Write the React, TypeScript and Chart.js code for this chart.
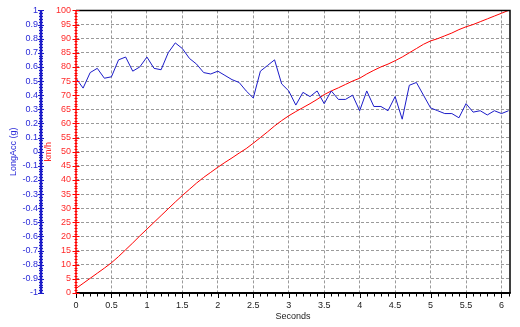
import React, { useEffect, useRef } from 'react';
import { Chart, registerables } from 'chart.js';

Chart.register(...registerables);

const seconds = [
  0, 0.1, 0.2, 0.3, 0.4, 0.5, 0.6, 0.7, 0.8, 0.9,
  1.0, 1.1, 1.2, 1.3, 1.4, 1.5, 1.6, 1.7, 1.8, 1.9,
  2.0, 2.1, 2.2, 2.3, 2.4, 2.5, 2.6, 2.7, 2.8, 2.9,
  3.0, 3.1, 3.2, 3.3, 3.4, 3.5, 3.6, 3.7, 3.8, 3.9,
  4.0, 4.1, 4.2, 4.3, 4.4, 4.5, 4.6, 4.7, 4.8, 4.9,
  5.0, 5.1, 5.2, 5.3, 5.4, 5.5, 5.6, 5.7, 5.8, 5.9,
  6.0, 6.1,
];

const longAccG = [
  0.52, 0.45, 0.56, 0.59, 0.52, 0.53, 0.65, 0.67, 0.57, 0.6,
  0.67, 0.59, 0.58, 0.7, 0.77, 0.73, 0.66, 0.62, 0.56, 0.55,
  0.57, 0.54, 0.51, 0.49, 0.43, 0.38, 0.57, 0.61, 0.65, 0.48,
  0.43, 0.33, 0.42, 0.39, 0.43, 0.34, 0.43, 0.37, 0.37, 0.4,
  0.29, 0.43, 0.32, 0.32, 0.29, 0.39, 0.23, 0.47, 0.49, 0.4,
  0.31, 0.29, 0.27, 0.27, 0.24, 0.34, 0.28, 0.29, 0.26, 0.29,
  0.27, 0.29,
];

const speedKmh = [
  1.6, 3.4, 5.2, 7.0, 8.8, 10.7, 12.9, 15.3, 17.7, 20.2,
  22.6, 25.0, 27.4, 29.8, 32.2, 34.5, 36.7, 38.9, 40.9, 42.7,
  44.5, 46.2, 47.8, 49.5, 51.1, 53.0, 55.0, 57.0, 59.1, 61.0,
  62.7, 64.2, 65.6, 67.0, 68.5, 70.2, 71.5, 72.6, 73.8, 75.0,
  76.0, 77.5, 78.8, 80.0, 81.0, 82.2, 83.5, 85.0, 86.5, 88.0,
  89.2, 90.0, 91.0, 92.0, 93.2, 94.2, 95.0, 96.0, 97.0, 98.0,
  99.0, 100.0,
];

const secondsRange = [0, 6.12];
const gRange = [-1, 1];
const kmhRange = [0, 100];

const FONT = "'Liberation Sans', Arial, sans-serif";
const BLUE = '#1c1cc8';
const BLUE_TEXT = '#2a2ad8';
const RED = '#ff0000';
const RED_TEXT = '#ff2a2a';
const GRID = '#9a9a9a';

const framePlugin = {
  id: 'frame',
  afterDatasetsDraw(chart: any) {
    const { ctx, chartArea: ca, scales } = chart;
    const xs = scales.x;
    const gs = scales.g;
    const ks = scales.kmh;
    ctx.save();
    ctx.setLineDash([]);

    // top and right borders
    ctx.strokeStyle = '#000';
    ctx.lineWidth = 1.5;
    ctx.beginPath();
    ctx.moveTo(ca.left, ca.top);
    ctx.lineTo(ca.right, ca.top);
    ctx.lineTo(ca.right, ca.bottom);
    ctx.stroke();

    // bottom axis
    ctx.lineWidth = 2;
    ctx.beginPath();
    ctx.moveTo(ca.left, ca.bottom);
    ctx.lineTo(ca.right + 0.75, ca.bottom);
    ctx.stroke();
    ctx.lineWidth = 1;
    ctx.beginPath();
    for (let i = 0; i <= 61; i++) {
      const px = Math.round(xs.getPixelForValue(i / 10)) + 0.5;
      const len = i % 5 === 0 ? 5 : 3.5;
      ctx.moveTo(px, ca.bottom);
      ctx.lineTo(px, ca.bottom + len);
    }
    ctx.stroke();

    // red axis
    ctx.strokeStyle = RED;
    ctx.lineWidth = 1.5;
    ctx.beginPath();
    ctx.moveTo(ca.left, ca.top);
    ctx.lineTo(ca.left, ca.bottom);
    ctx.stroke();
    ctx.lineWidth = 1;
    ctx.beginPath();
    for (let v = 0; v <= 100; v++) {
      const py = Math.round(ks.getPixelForValue(v)) + 0.5;
      const len = v % 5 === 0 ? 3.5 : 1.5;
      ctx.moveTo(ca.left - len, py);
      ctx.lineTo(ca.left + len, py);
    }
    ctx.stroke();

    // blue axis
    const bx = gs.right;
    ctx.strokeStyle = BLUE;
    ctx.lineWidth = 2.5;
    ctx.beginPath();
    ctx.moveTo(bx, ca.top);
    ctx.lineTo(bx, ca.bottom);
    ctx.stroke();
    ctx.lineWidth = 1;
    ctx.beginPath();
    for (let i = -50; i <= 50; i++) {
      const py = Math.round(gs.getPixelForValue(i / 50)) + 0.5;
      const len = i % 5 === 0 ? 3 : 2;
      ctx.moveTo(bx - len, py);
      ctx.lineTo(bx + len, py);
    }
    ctx.stroke();

    ctx.restore();
  },
};

export default function App() {
  const canvasRef = useRef<HTMLCanvasElement | null>(null);

  useEffect(() => {
    const canvas = canvasRef.current;
    if (!canvas) return;
    const tickLabel = (v: any) => String(Math.round(Number(v) * 10) / 10);

    const chart = new Chart(canvas, {
      type: 'line',
      data: {
        datasets: [
          {
            label: 'LongAcc (g)',
            data: seconds.map((t, i) => ({ x: t, y: longAccG[i] })),
            yAxisID: 'g',
            borderColor: BLUE,
            borderWidth: 1,
            pointRadius: 0,
            tension: 0,
          },
          {
            label: 'km/h',
            data: seconds.map((t, i) => ({ x: t, y: speedKmh[i] })),
            yAxisID: 'kmh',
            borderColor: RED,
            borderWidth: 1,
            pointRadius: 0,
            tension: 0,
          },
        ],
      },
      options: {
        responsive: false,
        animation: false,
        events: [],
        layout: { padding: { top: 10, right: 10, left: 0, bottom: 0 } },
        plugins: {
          legend: { display: false },
          tooltip: { enabled: false },
        },
        scales: {
          x: {
            type: 'linear',
            min: secondsRange[0],
            max: secondsRange[1],
            afterBuildTicks: (scale: any) => {
              scale.ticks = scale.ticks.filter(
                (t: any) => Math.abs(t.value * 2 - Math.round(t.value * 2)) < 1e-6 && t.value <= 6.0001
              );
            },
            afterFit: (scale: any) => {
              scale.height = 34;
            },
            ticks: {
              stepSize: 0.5,
              includeBounds: false,
              autoSkip: false,
              maxRotation: 0,
              padding: 7,
              color: '#222',
              font: { family: FONT, size: 9 },
              callback: tickLabel,
            },
            grid: {
              color: (c: any) => (c.tick && c.tick.value === 0 ? 'rgba(0,0,0,0)' : GRID),
              lineWidth: 1,
              drawTicks: false,
            },
            border: { display: false, dash: [3, 2] },
            title: {
              display: true,
              text: 'Seconds',
              color: '#222',
              font: { family: FONT, size: 9 },
              padding: { top: 0, bottom: 5 },
            },
          },
          g: {
            type: 'linear',
            position: 'left',
            weight: 2,
            min: gRange[0],
            max: gRange[1],
            afterFit: (scale: any) => {
              scale.width = 41;
            },
            ticks: {
              stepSize: 0.1,
              autoSkip: false,
              padding: 3,
              color: BLUE_TEXT,
              font: { family: FONT, size: 9 },
              callback: tickLabel,
            },
            grid: { display: false, drawTicks: false },
            border: { display: false },
            title: {
              display: true,
              text: 'LongAcc (g)',
              color: BLUE_TEXT,
              font: { family: FONT, size: 9 },
              padding: { top: 8, bottom: 0 },
            },
          },
          kmh: {
            type: 'linear',
            position: 'left',
            weight: 1,
            min: kmhRange[0],
            max: kmhRange[1],
            afterFit: (scale: any) => {
              scale.width = 35;
            },
            ticks: {
              stepSize: 5,
              autoSkip: false,
              padding: 5,
              color: RED_TEXT,
              font: { family: FONT, size: 9 },
            },
            grid: {
              color: (c: any) =>
                c.tick && (c.tick.value === 0 || c.tick.value === 100) ? 'rgba(0,0,0,0)' : GRID,
              lineWidth: 1,
              drawTicks: false,
            },
            border: { display: false, dash: [3, 2] },
            title: {
              display: true,
              text: 'km/h',
              color: RED_TEXT,
              font: { family: FONT, size: 9 },
              padding: { top: 2, bottom: 0 },
            },
          },
        },
      },
      plugins: [framePlugin],
    } as any);

    return () => {
      chart.destroy();
    };
  }, []);

  return (
    <div style={{ position: 'absolute', left: 0, top: 0, width: 520, height: 327, background: '#fff' }}>
      <canvas ref={canvasRef} width={520} height={327} style={{ width: 520, height: 327, display: 'block' }} />
    </div>
  );
}
